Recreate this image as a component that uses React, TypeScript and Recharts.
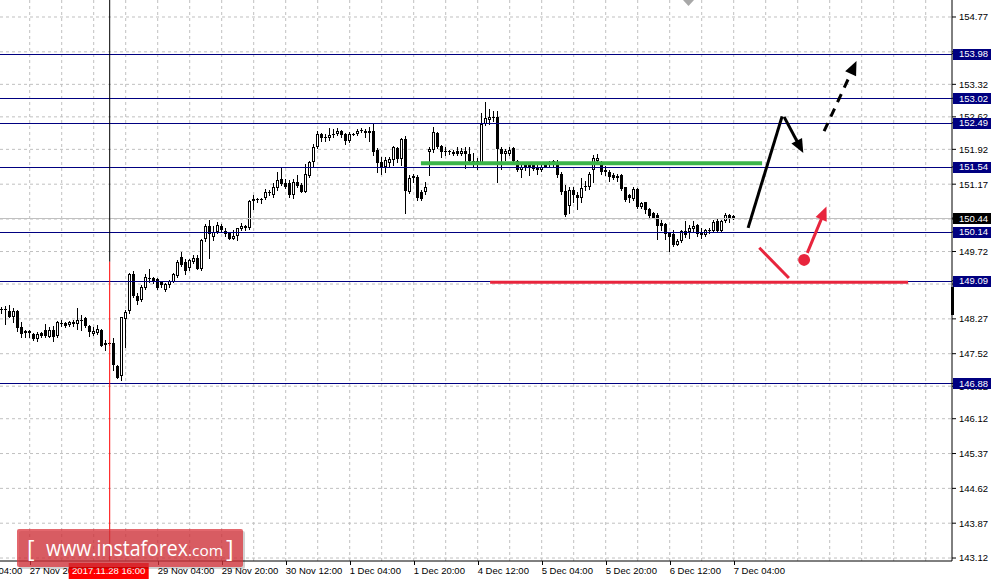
import React from 'react';
import { ComposedChart, Bar, XAxis, YAxis, CartesianGrid, ReferenceLine, ReferenceDot } from 'recharts';

// ---- candle data (H1) ----
const opens = [
  148.48, 148.48, 148.44, 148.32, 148.44, 148.10, 147.96, 148.00, 147.94, 147.83,
  147.97, 148.02, 147.89, 148.03, 147.91, 148.19, 148.18, 148.13, 148.21, 148.16,
  148.24, 148.28, 148.11, 147.95, 147.97, 148.03, 147.70, 147.74, 147.74, 147.25,
  147.03, 148.27, 148.43, 149.23, 148.77, 148.67, 148.93, 149.15, 149.14, 149.13,
  149.06, 148.89, 148.99, 149.07, 149.20, 149.61, 149.50, 149.36, 149.49, 149.57,
  149.34, 149.98, 150.27, 150.04, 150.13, 150.27, 150.17, 150.12, 150.00, 150.06,
  150.21, 150.27, 150.22, 150.81, 150.85, 150.85, 150.87, 151.00, 150.94, 151.08,
  151.28, 151.19, 151.20, 150.94, 151.22, 151.15, 151.01, 151.35, 151.64, 151.96,
  152.24, 152.18, 152.17, 152.24, 152.24, 152.32, 152.24, 152.09, 152.24, 152.24,
  152.33, 152.32, 152.27, 152.32, 151.91, 151.65, 151.53, 151.62, 151.69, 151.94,
  151.71, 152.14, 151.01, 151.30, 151.33, 151.01, 151.01, 151.87, 151.91, 152.27,
  151.99, 151.88, 151.87, 151.87, 151.89, 151.83, 151.89, 151.83, 151.67, 151.66,
  151.62, 152.46, 152.56, 152.62, 152.62, 151.93, 151.83, 151.83, 151.94, 151.66,
  151.48, 151.58, 151.58, 151.58, 151.53, 151.48, 151.55, 151.62, 151.60, 151.62,
  151.40, 151.02, 150.69, 151.05, 150.94, 150.87, 151.10, 151.10, 151.47, 151.67,
  151.62, 151.48, 151.44, 151.37, 151.30, 151.37, 151.10, 150.94, 150.85, 151.07,
  150.67, 150.78, 150.64, 150.54, 150.51, 150.33, 150.31, 150.11, 150.09, 149.86,
  149.95, 150.16, 150.15, 150.21, 150.29, 150.15, 150.08, 150.18, 150.16, 150.38,
  150.16, 150.38, 150.51, 150.48,
];
const highs = [
  148.53, 148.55, 148.57, 148.51, 148.46, 148.21, 148.03, 148.02, 147.97, 147.99,
  147.98, 148.15, 148.10, 148.12, 148.22, 148.24, 148.21, 148.23, 148.25, 148.51,
  148.35, 148.32, 148.14, 148.10, 148.14, 148.05, 147.82, 147.78, 147.85, 147.28,
  148.32, 148.46, 149.25, 149.29, 148.82, 148.99, 149.23, 149.34, 149.17, 149.16,
  149.09, 149.04, 149.11, 149.25, 149.54, 149.70, 149.56, 149.56, 149.65, 149.65,
  149.99, 150.31, 150.40, 150.26, 150.35, 150.31, 150.22, 150.15, 150.18, 150.23,
  150.33, 150.29, 150.83, 150.94, 150.88, 150.87, 151.07, 151.05, 151.19, 151.43,
  151.53, 151.28, 151.26, 151.28, 151.37, 151.19, 151.60, 151.67, 152.03, 152.32,
  152.27, 152.24, 152.39, 152.36, 152.39, 152.34, 152.27, 152.30, 152.27, 152.36,
  152.37, 152.36, 152.41, 152.46, 151.94, 151.76, 151.76, 151.76, 152.00, 151.98,
  152.17, 152.21, 151.37, 151.40, 151.37, 151.04, 151.21, 151.96, 152.41, 152.29,
  152.01, 151.96, 151.91, 151.91, 151.96, 151.94, 151.96, 151.96, 151.84, 151.73,
  152.70, 152.93, 152.79, 152.75, 152.75, 151.98, 151.93, 151.96, 151.98, 151.69,
  151.58, 151.62, 151.62, 151.62, 151.62, 151.58, 151.62, 151.67, 151.69, 151.69,
  151.44, 151.15, 151.10, 151.12, 151.01, 151.30, 151.24, 151.44, 151.80, 151.81,
  151.67, 151.57, 151.48, 151.42, 151.40, 151.40, 151.12, 150.95, 151.10, 151.08,
  150.79, 150.79, 150.65, 150.58, 150.54, 150.40, 150.33, 150.13, 150.18, 150.00,
  150.18, 150.38, 150.29, 150.38, 150.31, 150.22, 150.20, 150.23, 150.40, 150.42,
  150.40, 150.54, 150.52, 150.51,
];
const lows = [
  148.39, 148.17, 148.32, 148.21, 148.01, 147.87, 147.87, 147.89, 147.82, 147.80,
  147.89, 147.89, 147.87, 147.80, 147.89, 148.12, 148.10, 148.12, 148.12, 148.05,
  148.03, 148.10, 147.91, 147.92, 147.94, 147.69, 147.60, 147.70, 147.17, 146.99,
  146.95, 147.67, 148.39, 148.75, 148.60, 148.66, 148.91, 149.07, 149.04, 148.91,
  148.96, 148.87, 148.96, 149.06, 149.18, 149.40, 149.23, 149.33, 149.47, 149.34,
  149.32, 149.95, 149.57, 149.97, 150.11, 150.15, 150.06, 149.98, 149.98, 149.96,
  150.18, 150.18, 150.20, 150.64, 150.78, 150.76, 150.85, 150.94, 150.90, 151.05,
  151.15, 151.08, 150.90, 150.87, 151.12, 151.00, 151.00, 151.33, 151.53, 151.94,
  152.10, 152.09, 152.12, 152.19, 152.23, 152.19, 152.03, 152.07, 152.22, 152.23,
  152.29, 152.19, 152.09, 151.80, 151.43, 151.40, 151.44, 151.57, 151.58, 151.65,
  151.58, 150.56, 150.99, 151.21, 150.83, 150.83, 150.95, 151.37, 151.87, 151.94,
  151.76, 151.80, 151.81, 151.80, 151.80, 151.80, 151.51, 151.66, 151.55, 151.50,
  151.60, 152.44, 152.46, 152.52, 151.22, 151.50, 151.69, 151.80, 151.65, 151.45,
  151.33, 151.47, 151.37, 151.47, 151.38, 151.45, 151.53, 151.55, 151.57, 151.33,
  150.95, 150.49, 150.54, 150.79, 150.64, 150.78, 151.05, 151.07, 151.22, 151.64,
  151.40, 151.37, 151.24, 151.28, 151.24, 151.05, 150.81, 150.79, 150.83, 150.65,
  150.65, 150.54, 150.45, 150.44, 149.99, 150.18, 150.00, 149.73, 149.83, 149.85,
  149.93, 150.04, 150.02, 150.13, 150.06, 150.02, 150.06, 150.11, 150.13, 150.13,
  150.15, 150.36, 150.35, 150.42,
];
const closes = [
  148.47, 148.48, 148.32, 148.43, 148.07, 147.95, 148.01, 147.96, 147.83, 147.94,
  147.91, 147.90, 148.03, 147.89, 148.20, 148.18, 148.12, 148.21, 148.15, 148.25,
  148.25, 148.11, 147.98, 148.01, 148.05, 147.69, 147.74, 147.73, 147.27, 147.00,
  148.30, 148.41, 149.23, 148.77, 148.66, 148.96, 149.17, 149.14, 149.09, 148.93,
  149.00, 149.01, 149.09, 149.23, 149.49, 149.43, 149.30, 149.54, 149.59, 149.34,
  149.97, 150.27, 150.09, 150.13, 150.29, 150.18, 150.10, 149.99, 150.06, 150.22,
  150.27, 150.22, 150.81, 150.85, 150.86, 150.84, 151.00, 150.99, 151.10, 151.25,
  151.17, 151.12, 150.94, 151.22, 151.13, 151.01, 151.38, 151.64, 151.98, 152.24,
  152.17, 152.19, 152.23, 152.23, 152.32, 152.22, 152.09, 152.24, 152.25, 152.32,
  152.34, 152.27, 152.32, 151.87, 151.62, 151.51, 151.69, 151.71, 151.96, 151.71,
  152.14, 151.03, 151.31, 151.35, 150.87, 150.85, 151.11, 151.93, 152.29, 151.98,
  151.87, 151.89, 151.88, 151.83, 151.83, 151.89, 151.82, 151.67, 151.62, 151.60,
  152.46, 152.59, 152.62, 152.59, 151.93, 151.83, 151.89, 151.91, 151.67, 151.48,
  151.53, 151.51, 151.55, 151.49, 151.48, 151.55, 151.58, 151.58, 151.66, 151.37,
  151.01, 150.51, 151.05, 150.94, 150.87, 151.08, 151.14, 151.40, 151.73, 151.74,
  151.43, 151.43, 151.33, 151.30, 151.35, 151.07, 150.83, 150.87, 151.07, 150.67,
  150.76, 150.61, 150.49, 150.45, 150.26, 150.28, 150.09, 150.04, 149.85, 149.95,
  150.16, 150.08, 150.22, 150.28, 150.09, 150.08, 150.18, 150.19, 150.36, 150.16,
  150.38, 150.51, 150.45, 150.44,
];

// ---- axes ----
const timeTickIndex = [7, 39, 55, 71, 87, 103, 119, 135, 151, 167, 183];
const timeTickLabels = [
  '27 Nov 20:00', '29 Nov 04:00', '29 Nov 20:00', '30 Nov 12:00', '1 Dec 04:00',
  '1 Dec 20:00', '4 Dec 12:00', '5 Dec 04:00', '5 Dec 20:00', '6 Dec 12:00', '7 Dec 04:00',
];
const earlierLabel = '27 Nov 04:00';
const gridIndex = [
  7, 15, 23, 31, 39, 47, 55, 63, 71, 79, 87, 95, 103, 111, 119, 127, 135, 143, 151,
  159, 167, 175, 183, 191, 199, 207, 215, 223, 231,
];
const cursorIndex = 27;
const cursorLabel = '2017.11.28 16:00';
const cursorSplitPrice = 149.5;

const priceTicks = [
  154.77, 154.02, 153.32, 152.62, 151.92, 151.17, 150.42, 149.72, 149.02, 148.27,
  147.52, 146.82, 146.12, 145.37, 144.62, 143.87, 143.12,
];
const levelPrices = [153.98, 153.02, 152.49, 151.54, 150.14, 149.09, 146.88];
const bidPrice = 150.44;

// ---- drawn analysis objects (index, price) ----
const greenLevel = { from: 104.8, to: 190.1, price: 151.62 };
const redLevel = { from: 122.1, to: 226.6, price: 149.06 };
const blackRise = [[186.6, 150.23], [195.1, 152.63]];
const blackDrop = [[195.6, 152.62], [200.4, 151.84]];
const blackDashed = [[205.6, 152.31], [213.7, 153.82]];
const redDrop = [[189.4, 149.80], [196.8, 149.15]];
const redDot = [200.6, 149.54];
const redRise = [[201.4, 149.69], [206.2, 150.69]];

const X_DOMAIN: [number, number] = [-0.425, 237.575];
const Y_DOMAIN: [number, number] = [143.056, 155.136];

const data = opens.map((o, i) => ({ i, o, h: highs[i], l: lows[i], c: closes[i] }));

const FONT = 'Liberation Sans, Arial, sans-serif';
const NAVY = '#000080';
const RED = '#e8253d';
const GREEN = '#3bb54a';

const CandleShape = (props: any) => {
  const { x, y, width, height, payload } = props;
  if (!payload) return null;
  const { o, h, l, c } = payload;
  const toY = (v: number) => y + ((h - v) / (h - l)) * height;
  const px = Math.floor(x + width / 2);
  const hiY = Math.round(y);
  const loY = Math.round(y + height);
  const top = Math.round(toY(Math.max(o, c)));
  const bot = Math.round(toY(Math.min(o, c)));
  const wick = <line x1={px + 0.5} x2={px + 0.5} y1={hiY} y2={loY + 1} stroke="#000" strokeWidth={1} />;
  if (bot - top <= 1) {
    return (
      <g>
        {wick}
        <rect x={px - 1} y={top} width={3} height={1} fill="#000" />
      </g>
    );
  }
  if (c >= o) {
    return (
      <g>
        {wick}
        <rect x={px - 0.5} y={top + 0.5} width={2} height={bot - top - 1} fill="#fff" stroke="#000" strokeWidth={1} />
      </g>
    );
  }
  return (
    <g>
      {wick}
      <rect x={px - 1} y={top} width={3} height={bot - top} fill="#000" />
    </g>
  );
};

const XTick = (props: any) => {
  const { x, y, payload } = props;
  const v = payload.value;
  if (v === cursorIndex) {
    return (
      <g>
        <rect x={x - 41} y={y + 2} width={80} height={16} fill="#ff0000" />
        <text x={x - 1} y={y + 13} textAnchor="middle" fontSize={9.5} fontFamily={FONT} fill="#fff">
          {cursorLabel}
        </text>
      </g>
    );
  }
  const k = timeTickIndex.indexOf(v);
  if (k < 0) return null;
  return (
    <g>
      <line x1={Math.round(x) + 0.5} x2={Math.round(x) + 0.5} y1={y} y2={y + 4} stroke="#000" />
      <text x={x} y={y + 13} textAnchor="start" fontSize={9.5} fontFamily={FONT} fill="#000">
        {timeTickLabels[k]}
      </text>
      {k === 0 && (
        <text x={x - 64} y={y + 13} textAnchor="start" fontSize={9.5} fontFamily={FONT} fill="#000">
          {earlierLabel}
        </text>
      )}
    </g>
  );
};

const YTick = (props: any) => {
  const { x, y, payload } = props;
  const v = payload.value;
  const isLevel = levelPrices.includes(v);
  const isBid = v === bidPrice;
  if (isLevel || isBid) {
    return (
      <g>
        <rect x={x - 6} y={Math.round(y) - 5} width={38} height={11} fill={isBid ? '#000' : NAVY} />
        <text x={x} y={y} dy="0.36em" fontSize={9.5} fontFamily={FONT} fill="#fff">
          {v.toFixed(2)}
        </text>
      </g>
    );
  }
  return (
    <text x={x} y={y} dy="0.36em" fontSize={9.5} fontFamily={FONT} fill="#000">
      {v.toFixed(2)}
    </text>
  );
};

const crispH = (color: string) => (p: any) => {
  const yy = Math.round(p.y1) + 0.5;
  return <line x1={p.x1} x2={p.x2} y1={yy} y2={yy} stroke={color} strokeWidth={1} />;
};

const thickLine = (color: string, w: number) => (p: any) => (
  <line x1={p.x1} y1={p.y1} x2={p.x2} y2={p.y2} stroke={color} strokeWidth={w} />
);

const arrowShape = (color: string, w: number, dash?: string) => (p: any) => {
  const { x1, y1, x2, y2 } = p;
  const ang = Math.atan2(y2 - y1, x2 - x1);
  const L = 14;
  const W = 6;
  const bx = x2 - L * Math.cos(ang);
  const by = y2 - L * Math.sin(ang);
  const sx = W * Math.sin(ang);
  const sy = W * Math.cos(ang);
  const pts = `${x2},${y2} ${bx + sx},${by - sy} ${bx - sx},${by + sy}`;
  return (
    <g>
      <line x1={x1} y1={y1} x2={bx + 2 * Math.cos(ang)} y2={by + 2 * Math.sin(ang)} stroke={color} strokeWidth={w} strokeDasharray={dash} />
      <polygon points={pts} fill={color} />
    </g>
  );
};

const seg = (s: number[][]) => [
  { x: s[0][0], y: s[0][1] },
  { x: s[1][0], y: s[1][1] },
];

export default function App() {
  return (
    <div style={{ position: 'absolute', left: 0, top: 0, width: 993, height: 581, background: '#fff' }}>
      <ComposedChart width={993} height={581} data={data} margin={{ top: 0, right: 0, bottom: 0, left: 0 }}>
        <CartesianGrid
          stroke="#c0c0c0"
          strokeDasharray="3 3"
          horizontalValues={priceTicks}
          verticalValues={gridIndex}
        />
        <XAxis
          type="number"
          dataKey="i"
          domain={X_DOMAIN}
          allowDataOverflow
          ticks={[...timeTickIndex, cursorIndex].sort((a, b) => a - b)}
          interval={0}
          tick={<XTick />}
          tickLine={false}
          tickSize={0}
          tickMargin={0}
          height={20}
          axisLine={{ stroke: '#000' }}
        />
        <YAxis
          orientation="right"
          type="number"
          domain={Y_DOMAIN}
          allowDataOverflow
          ticks={[...priceTicks, bidPrice, ...levelPrices]}
          interval={0}
          tick={<YTick />}
          tickSize={4}
          tickMargin={3}
          tickLine={{ stroke: '#000' }}
          width={41}
          axisLine={{ stroke: '#000' }}
        />
        <ReferenceLine y={bidPrice} stroke="#c0c0c0" shape={crispH('#c0c0c0')} />
        {levelPrices.map((p) => (
          <ReferenceLine key={p} y={p} stroke={NAVY} shape={crispH(NAVY)} />
        ))}
        <ReferenceLine
          segment={[{ x: cursorIndex, y: Y_DOMAIN[1] }, { x: cursorIndex, y: cursorSplitPrice }]}
          stroke="#000"
          ifOverflow="visible"
        />
        <ReferenceLine
          segment={[{ x: cursorIndex, y: cursorSplitPrice }, { x: cursorIndex, y: Y_DOMAIN[0] }]}
          stroke="#ff0000"
          ifOverflow="visible"
        />
        <Bar dataKey={(d: any) => [d.l, d.h]} barSize={3} shape={<CandleShape />} isAnimationActive={false} />
        <ReferenceLine
          segment={[{ x: greenLevel.from, y: greenLevel.price }, { x: greenLevel.to, y: greenLevel.price }]}
          shape={thickLine(GREEN, 4)}
          ifOverflow="visible"
        />
        <ReferenceLine
          segment={[{ x: redLevel.from, y: redLevel.price }, { x: redLevel.to, y: redLevel.price }]}
          shape={thickLine(RED, 3)}
          ifOverflow="visible"
        />
        <ReferenceLine segment={seg(blackRise)} shape={thickLine('#000', 3)} ifOverflow="visible" />
        <ReferenceLine segment={seg(blackDrop)} shape={arrowShape('#000', 3)} ifOverflow="visible" />
        <ReferenceLine segment={seg(blackDashed)} shape={arrowShape('#000', 3, '9 7')} ifOverflow="visible" />
        <ReferenceLine segment={seg(redDrop)} shape={thickLine(RED, 3)} ifOverflow="visible" />
        <ReferenceLine segment={seg(redRise)} shape={arrowShape(RED, 3)} ifOverflow="visible" />
        <ReferenceDot x={redDot[0]} y={redDot[1]} r={6} fill={RED} stroke="none" ifOverflow="visible" />
      </ComposedChart>
      <svg width={993} height={581} style={{ position: 'absolute', left: 0, top: 0, pointerEvents: 'none' }}>
        <polygon points="683,0 694,0 688.5,6" fill="#a8a8a8" />
        <rect x={951} y={287} width={3} height={28} fill="#000" />
        <rect x={19} y={531} width={226} height={38} rx={2} fill="rgba(0,0,0,0.18)" />
        <rect x={17} y={529} width={226} height={38} rx={2} fill="#d9343c" fillOpacity={0.75} />
        <g fill="#fff" fontFamily="Open Sans, DejaVu Sans, sans-serif">
          <text x={27} y={557} fontSize={23}>[</text>
          <text x={46} y={556} fontSize={21} textLength={142} lengthAdjust="spacingAndGlyphs">www.instaforex</text>
          <text x={188} y={556} fontSize={15} textLength={35} lengthAdjust="spacingAndGlyphs">.com</text>
          <text x={226} y={557} fontSize={23}>]</text>
        </g>
      </svg>
    </div>
  );
}
